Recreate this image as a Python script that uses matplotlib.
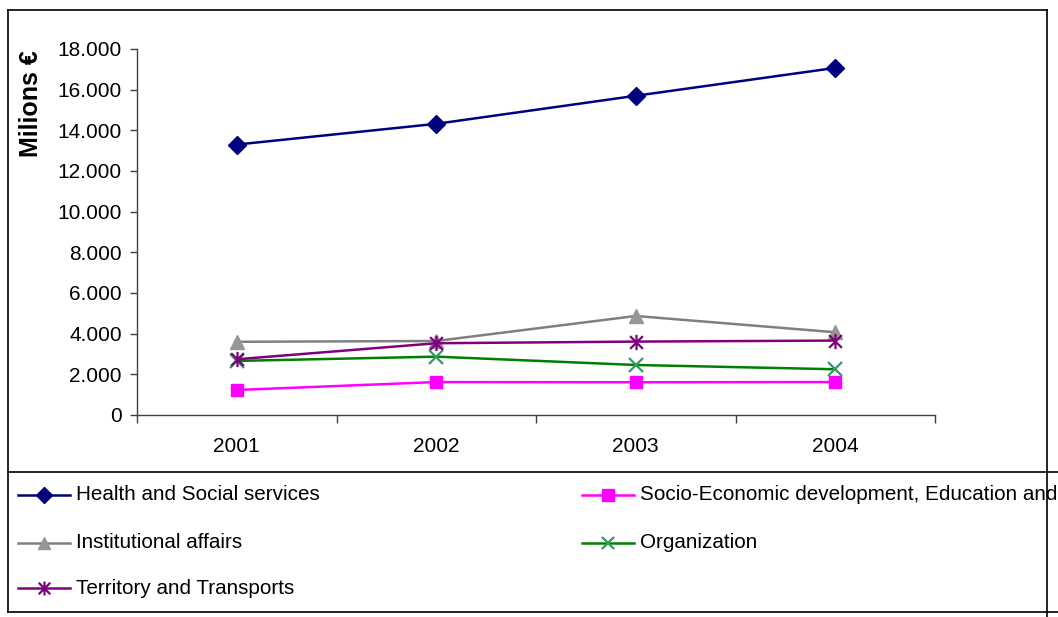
import matplotlib
matplotlib.use("Agg")
import matplotlib.pyplot as plt
from matplotlib.lines import Line2D
from matplotlib.path import Path
from matplotlib.ticker import FuncFormatter, MultipleLocator, FixedLocator

plt.rcParams['font.family'] = ['Liberation Sans', 'DejaVu Sans']

years = ["2001", "2002", "2003", "2004"]
health = [13300, 14320, 15700, 17070]
socio = [1230, 1620, 1610, 1620]
institutional = [3600, 3640, 4870, 4070]
organization = [2660, 2870, 2460, 2250]
territory = [2740, 3530, 3610, 3660]

labels = ["Health and Social services",
          "Socio-Economic development, Education and",
          "Institutional affairs",
          "Organization",
          "Territory and Transports"]

W, H = 1058, 617
fig = plt.figure(figsize=(W / 100, H / 100), dpi=100)

def fx(px):
    return px / W

def fy(py):
    return 1 - py / H

ax = fig.add_axes([fx(137), fy(415), fx(935) - fx(137), fy(49) - fy(415)])

asterisk = Path([(-1, -1), (1, 1), (-1, 1), (1, -1), (0, -1.2), (0, 1.2)],
                [Path.MOVETO, Path.LINETO, Path.MOVETO, Path.LINETO, Path.MOVETO, Path.LINETO])

styles = [
    dict(color="#000080", marker="D", ms=9, mfc="#000080", mec="#000080"),
    dict(color="#FF00FF", marker="s", ms=9, mfc="#FF00FF", mec="#FF00FF"),
    dict(color="#808080", marker="^", ms=10, mfc="#969696", mec="#969696"),
    dict(color="#008000", marker="x", ms=10, mfc="none", mec="#339966", mew=1.6),
    dict(color="#800080", marker=asterisk, ms=11, mfc="none", mec="#800080", mew=1.6),
]
series = [health, socio, institutional, organization, territory]
xs = list(range(len(years)))

for vals, st, lab in zip(series, styles, labels):
    ax.plot(xs, vals, lw=1.8, label=lab, clip_on=False, **st)

ax.set_xlim(-0.5, len(years) - 0.5)
ax.set_ylim(0, 18000)
ax.yaxis.set_major_locator(MultipleLocator(2000))
ax.yaxis.set_major_formatter(FuncFormatter(lambda v, p: f"{int(v):,}".replace(",", ".")))
ax.set_xticks(xs)
ax.set_xticklabels(years)
ax.xaxis.set_minor_locator(FixedLocator([i - 0.5 for i in range(len(years) + 1)]))
ax.tick_params(axis="x", which="major", length=0, pad=16, labelsize=15)
ax.tick_params(axis="x", which="minor", length=6, width=1, color="#404040")
ax.tick_params(axis="y", which="major", length=5, width=1, color="#404040", labelsize=15, pad=6)
for s in ["top", "right"]:
    ax.spines[s].set_visible(False)
for s in ["left", "bottom"]:
    ax.spines[s].set_color("#404040")
    ax.spines[s].set_linewidth(1)

fig.text(fx(31), fy(104), "Milions €", rotation=90, ha="center", va="center",
         fontsize=18, fontweight="bold")

# frames
def seg(x0, y0, x1, y1):
    fig.add_artist(Line2D([fx(x0), fx(x1)], [fy(y0), fy(y1)], color="black", lw=1.2,
                          transform=fig.transFigure))

seg(8, 10, 1047, 10)
seg(8, 10, 8, 612)
seg(1047, 10, 1047, 617)
seg(8, 472, 1058, 472)
seg(8, 612, 1058, 612)

# legend
order = [0, 2, 4, 1, 3]
positions = [(18, 495), (18, 543), (18, 588), (582, 495), (582, 543)]
for idx, (px, py) in zip(order, positions):
    st = styles[idx]
    fig.add_artist(Line2D([fx(px), fx(px + 52)], [fy(py), fy(py)], lw=1.8,
                          transform=fig.transFigure, color=st["color"]))
    fig.add_artist(Line2D([fx(px + 26)], [fy(py)], lw=0, marker=st["marker"],
                          ms=st["ms"] - 1, mfc=st["mfc"], mec=st["mec"], mew=st.get("mew", 1),
                          transform=fig.transFigure))
    fig.text(fx(px + 58), fy(py), labels[idx], ha="left", va="center", fontsize=14.9)

fig.savefig("out.png", dpi=100)
